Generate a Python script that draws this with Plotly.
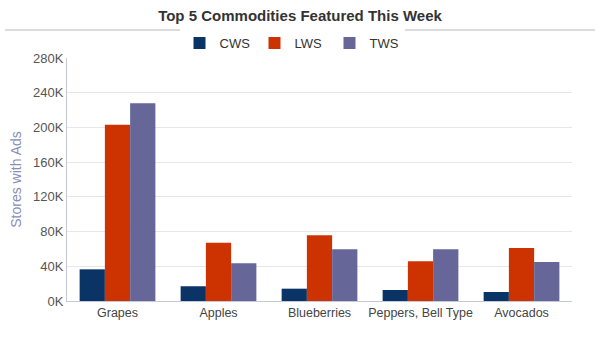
import plotly.graph_objects as go

categories = ["Grapes", "Apples", "Blueberries", "Peppers, Bell Type", "Avocados"]
cws = [36500, 17000, 14200, 12700, 10400]
lws = [203000, 67000, 75700, 45800, 61000]
tws = [228000, 43500, 59600, 59600, 45000]
tick_vals = [0, 40000, 80000, 120000, 160000, 200000, 240000, 280000]
tick_text = ["0K", "40K", "80K", "120K", "160K", "200K", "240K", "280K"]

font = "Liberation Sans, Arial, sans-serif"
fig = go.Figure()
fig.add_bar(name="CWS", x=categories, y=cws, marker_color="#0b3466", marker_line_width=0)
fig.add_bar(name="LWS", x=categories, y=lws, marker_color="#cc3300", marker_line_width=0)
fig.add_bar(name="TWS", x=categories, y=tws, marker_color="#666699", marker_line_width=0)

fig.update_layout(
    width=600, height=343,
    margin=dict(l=67, r=28, t=58, b=42),
    paper_bgcolor="white", plot_bgcolor="white",
    barmode="group", bargap=0.25, bargroupgap=0,
    font=dict(family=font, size=13, color="#555555"),
    title=dict(text="<b>Top 5 Commodities Featured This Week</b>", x=0.5, xanchor="center",
               y=1 - 16 / 343, yanchor="middle", font=dict(size=15, color="#333333", family=font)),
    legend=dict(orientation="h", x=(292 - 67) / 505, xanchor="center", y=(301 - 43) / 243, yanchor="middle",
                font=dict(size=13, color="#333333"), itemwidth=30, tracegroupgap=0,
                entrywidth=30, entrywidthmode="pixels",
                traceorder="normal", itemclick=False),
    shapes=[dict(type="line", xref="paper", yref="paper", x0=(5 - 67) / 505, x1=(595 - 67) / 505,
                 y0=(301 - 30) / 243, y1=(301 - 30) / 243, line=dict(color="#dcdcdc", width=2))],
    showlegend=True,
)
fig.update_yaxes(range=[0, 280000], tickvals=tick_vals, ticktext=tick_text,
                 showgrid=True, gridcolor="#e6e6ec", gridwidth=1,
                 showline=True, linecolor="#c4c8dc", linewidth=1, zeroline=False,
                 title=dict(text="Stores with Ads", font=dict(size=14, color="#8a8fb5"), standoff=8),
                 tickfont=dict(size=13, color="#555555"))
fig.update_xaxes(showline=True, linecolor="#c4c8dc", linewidth=1, showgrid=False,
                 tickfont=dict(size=12.5, color="#444444"))

fig.write_html("out.html")
